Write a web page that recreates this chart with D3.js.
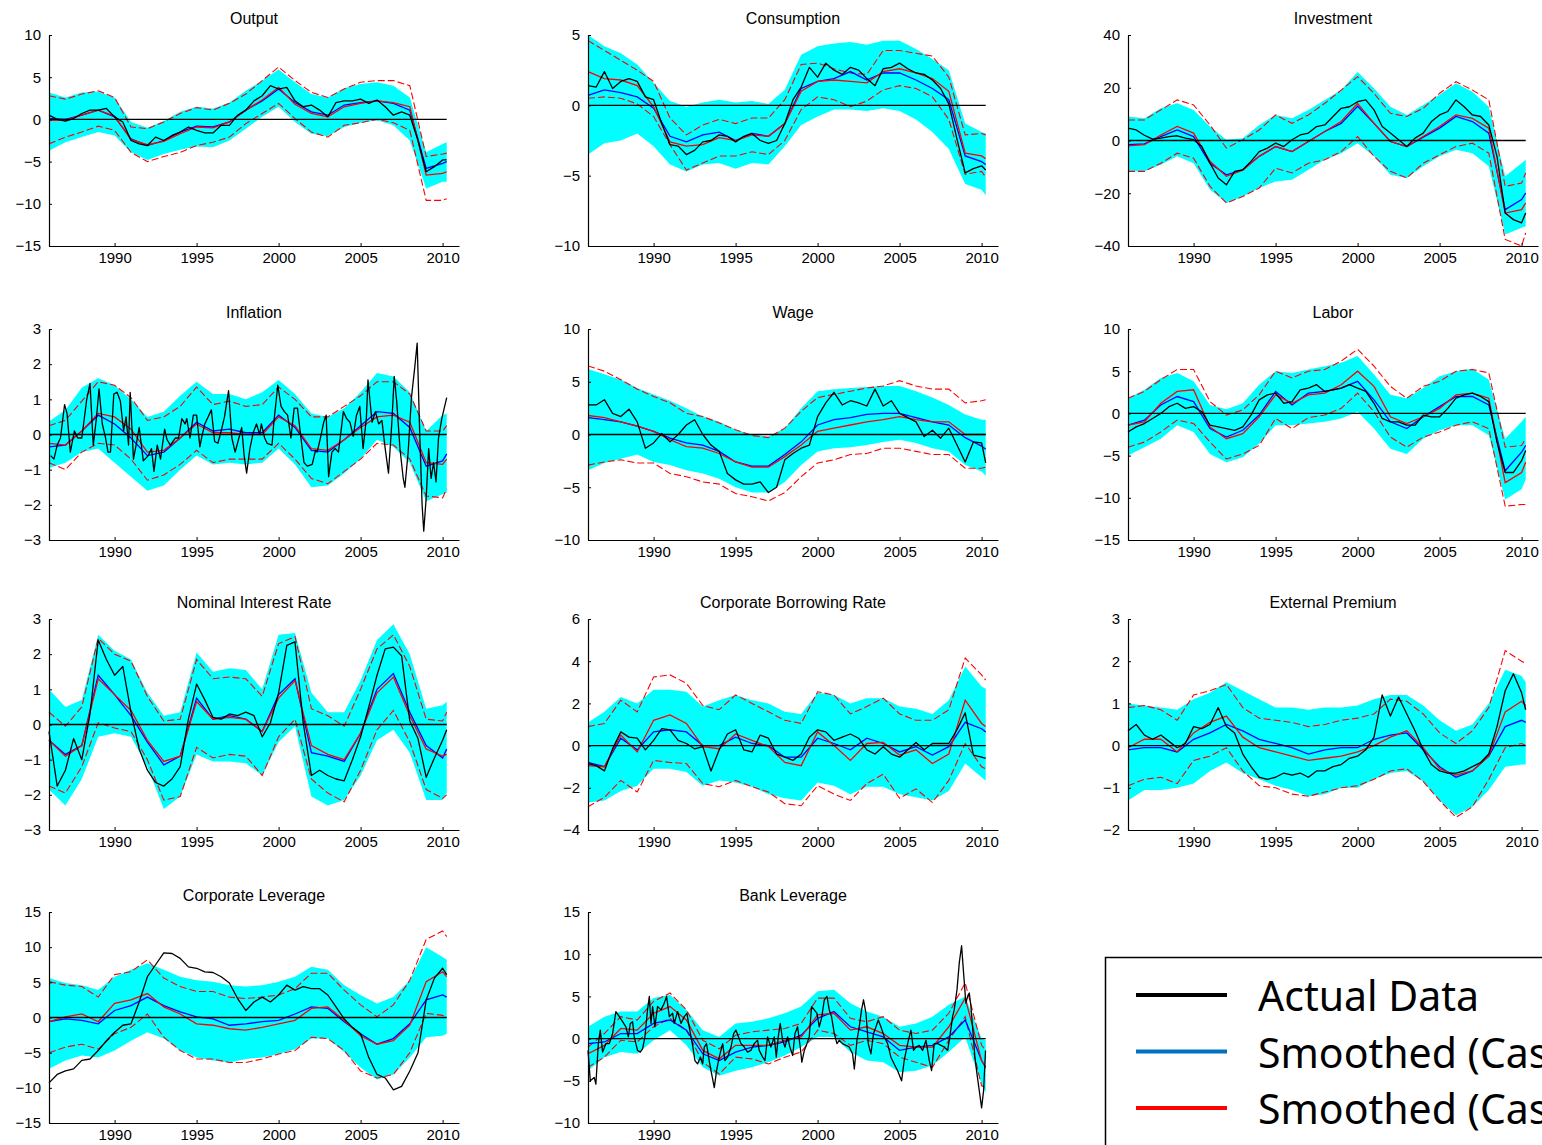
<!DOCTYPE html>
<html lang="en">
<head>
  <meta charset="utf-8">
  <title>Smoothed variables vs actual data</title>
  <script src="https://d3js.org/d3.v7.min.js"></script>
  <style>
    body { margin: 0; background: #fff; }
  </style>
</head>
<body>
<div id="chart"></div>
<script>
"use strict"

// time grids (yearly for bands / smoothed lines, half-yearly for actual data)
const years = [1986,1987,1988,1989,1990,1991,1992,1993,1994,1995,1996,1997,1998,1999,2000,
  2001,2002,2003,2004,2005,2006,2007,2008,2009,2010,2010.25];
const halfYears = [1986,1986.5,1987,1987.5,1988,1988.5,1989,1989.5,1990,1990.5,
  1991,1991.5,1992,1992.5,1993,1993.5,1994,1994.5,1995,1995.5,
  1996,1996.5,1997,1997.5,1998,1998.5,1999,1999.5,2000,2000.5,
  2001,2001.5,2002,2002.5,2003,2003.5,2004,2004.5,2005,2005.5,
  2006,2006.5,2007,2007.5,2008,2008.5,2009,2009.5,2010,2010.25];
const xTicks = [1990, 1995, 2000, 2005, 2010];

// ---- Output
const outTicks = [-15,-10,-5,0,5,10];
const outHi = [3.2,2.6,3.2,3.3,2.6, -0.3,-1.0,-0.2,0.9,1.5, 1.3,2.0,3.4,4.6,5.9, 4.4,3.0,2.6,3.7,4.2, 4.4,4.0,2.6,-3.9,-2.9,-2.7];
const outLo = [-3.7,-2.7,-2.1,-1.5,-1.9, -3.9,-4.8,-4.1,-3.6,-3.2, -3.3,-2.5,-1.1,0.3,1.5, -0.3,-1.7,-2.0,-0.9,-0.4, -0.1,-0.7,-2.5,-8.2,-7.4,-7.4];
const outDashHi = [2.8,2.4,3.0,3.4,2.6, -0.9,-1.1,-0.3,0.7,1.4, 1.1,1.9,3.0,4.6,6.2, 4.6,3.2,2.6,3.6,4.4, 4.6,4.6,4.0,-4.4,-4.1,-4.0];
const outDashLo = [-2.9,-2.1,-1.5,-0.8,-1.3, -3.9,-5.0,-4.4,-3.9,-3.1, -2.7,-2.1,-0.5,0.7,1.9, 0.1,-1.5,-2.1,-0.7,-0.4, 0.0,-0.4,-1.3,-9.6,-9.6,-9.4];
const outBlue = [0.1,0.0,0.5,1.1,0.3, -2.3,-3.1,-2.5,-1.5,-0.8, -0.9,-0.3,1.1,2.2,3.6, 2.0,0.9,0.5,1.7,2.0, 2.2,1.9,1.1,-5.8,-5.2,-5.0];
const outRed = [-0.1,-0.1,0.5,1.1,0.4, -2.4,-3.0,-2.6,-1.7,-0.9, -1.0,-0.3,1.1,2.3,3.8, 1.8,0.7,0.3,1.5,1.9, 2.2,2.0,1.5,-6.6,-6.4,-6.2];
const outActual = [0.5,0.0,-0.2,0.1,0.7,1.1,1.1,1.3,0.3,-0.3,
  -2.5,-2.9,-3.1,-2.1,-2.5,-1.9,-1.5,-0.9,-1.3,-1.6,
  -1.6,-0.7,-0.7,0.5,1.1,2.2,2.8,4.0,3.6,3.8,
  2.2,1.5,1.7,1.1,0.3,2.0,2.2,2.2,2.4,1.9,
  2.3,1.5,0.5,0.9,0.5,-2.5,-6.2,-5.6,-4.8,-4.8];

// ---- Consumption
const conTicks = [-10,-5,0,5];
const conHi = [5.0,4.2,3.7,2.9,1.6, 0.3,-0.1,0.2,0.4,0.2, 0.3,0.1,1.1,3.6,4.2, 4.4,4.5,4.3,4.6,4.6, 4.0,3.3,2.5,-1.3,-1.9,-2.0];
const conLo = [-3.5,-2.7,-2.5,-2.0,-2.9, -4.2,-4.7,-4.2,-4.1,-4.5, -4.1,-4.2,-2.9,-1.4,-0.8, -0.3,-0.3,-0.4,-0.2,-0.4, -1.0,-1.9,-3.1,-5.6,-6.0,-6.4];
const conDashHi = [4.6,3.9,3.2,2.5,1.7, -0.9,-2.1,-1.4,-1.0,-1.3, -0.9,-0.9,0.4,2.9,3.0, 2.6,2.3,2.2,3.9,3.9, 3.7,3.5,2.0,-2.1,-2.0,-2.1];
const conDashLo = [0.5,0.6,0.5,0.1,-0.8, -2.8,-4.6,-4.1,-3.6,-3.6, -3.3,-3.5,-2.5,-0.3,0.6, 0.4,-0.1,0.3,1.1,1.4, 1.2,0.6,-1.0,-4.9,-4.7,-5.1];
const conBlue = [0.7,1.1,0.9,0.6,-0.2, -2.2,-2.6,-2.1,-1.9,-2.5, -2.0,-2.2,-1.3,1.2,1.7, 1.9,2.4,1.8,2.3,2.3, 1.8,1.2,0.4,-3.6,-4.0,-4.2];
const conRed = [2.4,1.9,1.8,1.4,-0.1, -2.6,-2.9,-2.8,-2.3,-2.5, -2.1,-2.2,-1.3,1.0,1.7, 1.8,1.7,1.6,2.4,2.6, 2.3,1.9,1.0,-3.4,-3.6,-3.8];
const conActual = [1.4,1.3,2.4,1.2,1.7,1.9,1.7,0.6,0.4,-1.3,
  -2.8,-2.9,-3.5,-3.2,-2.6,-2.5,-2.1,-2.2,-2.6,-2.2,
  -2.0,-2.5,-2.7,-2.5,-1.3,0.4,1.3,2.7,2.0,3.0,
  2.5,2.2,2.7,2.5,1.9,1.4,2.6,2.7,3.0,2.6,
  2.3,2.2,1.8,1.2,0.1,-2.4,-4.8,-4.5,-4.3,-4.6];

// ---- Investment
const invTicks = [-40,-20,0,20,40];
const invHi = [9.1,8.4,12.2,14.1,11.6, 5.3,0.3,0.9,5.9,9.7, 8.4,11.6,15.4,19.1,26.0, 19.8,12.8,9.7,13.5,17.3, 21.7,18.5,12.8,-13.6,-8.6,-7.3];
const invLo = [-11.7,-11.7,-9.2,-6.0,-8.6, -18.6,-23.7,-21.2,-18.0,-15.5, -14.9,-11.1,-7.3,-4.8,-1.0, -6.0,-13.0,-14.2,-9.8,-6.0, -3.5,-4.8,-9.8,-35.6,-33.1,-32.5];
const invDashHi = [7.8,7.8,11.6,15.4,13.5, 5.9,-2.9,0.3,4.0,9.7, 6.5,9.7,14.1,19.1,24.2, 17.9,10.3,9.1,12.2,17.9, 22.3,19.1,15.4,-17.4,-16.1,-12.3];
const invDashLo = [-11.7,-11.7,-8.6,-4.8,-6.7, -17.4,-23.7,-21.2,-18.0,-10.5, -12.3,-8.6,-7.3,-4.2,1.5, -6.0,-11.7,-14.2,-8.6,-5.4, -2.3,-1.0,-4.8,-37.5,-40.0,-35.0];
const invBlue = [-1.6,-1.3,1.5,4.0,1.5, -8.6,-13.0,-11.1,-6.0,-2.3, -4.2,-0.4,3.4,6.5,13.0, 6.5,-0.4,-2.3,1.3,4.7, 9.1,7.2,2.8,-26.2,-22.4,-19.9];
const invRed = [-2.0,-1.6,2.1,5.3,2.8, -7.9,-13.6,-11.3,-6.0,-2.3, -4.2,-0.4,3.4,7.2,14.0, 6.5,-0.4,-2.3,1.5,5.3, 9.7,8.4,4.7,-27.5,-26.2,-23.7];
const invActual = [4.7,4.0,2.0,0.5,0.9,1.5,1.8,0.9,0.3,-2.3,
  -8.6,-14.2,-16.8,-11.7,-11.1,-7.9,-4.2,-2.9,-1.0,-2.3,
  0.3,2.1,2.8,5.3,5.9,9.1,12.2,12.8,14.7,15.4,
  11.6,5.3,2.8,0.3,-2.3,0.9,2.8,7.2,9.7,11.0,
  15.4,12.8,9.7,9.1,5.9,-6.0,-27.5,-30.0,-31.2,-27.5];

// ---- Inflation
const infTicks = [-3,-2,-1,0,1,2,3];
const infHi = [0.37,0.7,1.33,1.6,1.4, 1.0,0.5,0.65,1.1,1.5, 1.15,1.15,1.0,1.2,1.55, 1.15,0.6,0.5,0.75,1.2, 1.75,1.65,1.2,0.1,0.55,0.6];
const infLo = [-0.95,-0.8,-0.5,-0.4,-0.8, -1.2,-1.6,-1.45,-1.0,-0.6, -0.85,-0.8,-0.85,-0.8,-0.4, -0.85,-1.5,-1.45,-1.1,-0.7, -0.15,-0.35,-0.8,-1.9,-1.7,-1.65];
const infDashHi = [0.25,0.4,0.95,1.5,1.4, 1.05,0.4,0.5,0.8,1.35, 0.85,0.95,0.8,0.85,1.35, 1.0,0.5,0.5,0.8,1.1, 1.5,1.5,1.15,0.1,0.1,0.25];
const infDashLo = [-0.8,-1.0,-0.5,-0.25,-0.3, -0.7,-1.3,-1.15,-0.85,-0.45, -0.8,-0.7,-0.7,-0.7,-0.25, -0.7,-1.25,-1.4,-1.05,-0.7, -0.25,-0.3,-0.7,-1.75,-1.8,-1.55];
const infBlue = [-0.35,-0.3,0.1,0.55,0.3, -0.1,-0.6,-0.5,-0.1,0.35, 0.1,0.15,0.05,0.05,0.55, 0.2,-0.45,-0.5,-0.15,0.25, 0.65,0.6,0.2,-0.9,-0.75,-0.55];
const infRed = [-0.25,-0.3,0.1,0.6,0.5, 0.15,-0.5,-0.45,-0.1,0.3, 0.05,0.05,0.0,0.0,0.5, 0.25,-0.4,-0.45,-0.15,0.2, 0.5,0.55,0.35,-0.8,-0.85,-0.7];
// actual inflation is quarterly and very noisy: [year, value]
const infActual = [[1986.1,-0.6],[1986.3,-0.7],[1986.5,-0.3],[1986.7,-0.1],[1986.95,0.85],[1987.1,0.6],[1987.3,-0.5],
  [1987.55,0.1],[1987.75,-0.1],[1988.0,-0.1],[1988.3,1.0],[1988.5,1.45],[1988.7,-0.3],[1988.9,0.5],[1989.05,1.3],
  [1989.25,0.3],[1989.45,-0.1],[1989.6,-0.5],[1989.75,-0.5],[1989.95,1.15],[1990.15,1.2],[1990.35,0.95],[1990.55,0.1],
  [1990.7,0.5],[1990.85,-0.3],[1990.95,1.2],[1991.15,-0.7],[1991.35,-0.2],[1991.5,0.2],[1991.75,-0.75],[1992.05,-0.6],
  [1992.25,-0.4],[1992.4,-1.05],[1992.6,-0.3],[1992.8,-0.7],[1993.05,0.15],[1993.2,-0.15],[1993.4,-0.3],[1993.7,-0.1],
  [1993.9,-0.1],[1994.1,0.45],[1994.3,0.3],[1994.4,0.45],[1994.6,-0.1],[1994.8,0.55],[1995.0,0.55],[1995.2,-0.35],
  [1995.3,-0.1],[1995.5,0.3],[1995.7,0.5],[1995.9,0.7],[1996.1,-0.2],[1996.3,-0.25],[1996.5,0.1],[1996.7,0.5],
  [1996.95,1.25],[1997.15,-0.1],[1997.35,-0.5],[1997.55,-0.15],[1997.75,0.2],[1997.9,-0.6],[1998.05,-1.1],[1998.25,-0.4],
  [1998.45,0.05],[1998.65,0.3],[1998.85,0.0],[1998.95,0.3],[1999.15,-0.1],[1999.3,-0.25],[1999.6,-0.3],[1999.7,0.3],
  [1999.95,1.4],[2000.15,0.8],[2000.35,0.65],[2000.55,0.55],[2000.75,-0.1],[2000.95,0.75],[2001.15,0.75],[2001.35,-0.05],
  [2001.55,-0.8],[2001.75,-0.9],[2002.05,-0.85],[2002.25,-0.45],[2002.35,-0.5],[2002.55,-0.1],[2002.75,0.35],[2002.9,0.55],
  [2003.05,-1.2],[2003.25,-0.5],[2003.45,-0.4],[2003.65,-0.5],[2003.95,0.65],[2004.15,0.45],[2004.35,0.35],[2004.55,-0.05],
  [2004.75,0.55],[2004.95,0.8],[2005.15,-0.4],[2005.35,0.45],[2005.45,1.55],[2005.7,0.35],[2005.9,0.65],[2006.1,0.3],
  [2006.3,0.4],[2006.5,-0.4],[2006.7,-1.1],[2006.9,0.3],[2007.05,1.65],[2007.2,0.95],[2007.4,-0.4],[2007.6,-1.25],
  [2007.7,-1.5],[2007.9,-0.5],[2008.1,1.05],[2008.3,1.9],[2008.45,2.6],[2008.6,0.1],[2008.75,-2.0],[2008.85,-2.75],
  [2009.0,-1.8],[2009.15,-0.4],[2009.3,-1.25],[2009.45,-0.8],[2009.6,-1.35],[2009.75,-0.1],[2009.95,0.45],[2010.1,0.75],
  [2010.25,1.05]];

// ---- Wage
const wagTicks = [-10,-5,0,5,10];
const wagHi = [6.2,5.7,5.2,4.4,3.8, 3.2,2.5,1.7,1.2,0.45, 0.0,-0.2,0.6,2.5,4.1, 4.3,4.4,4.5,4.6,4.6, 4.1,3.5,2.8,1.9,1.4,1.4];
const wagLo = [-3.4,-2.7,-2.3,-1.9,-2.6, -2.9,-3.4,-3.7,-4.2,-5.0, -5.5,-5.5,-4.5,-2.9,-1.6, -1.3,-1.2,-1.0,-0.7,-0.5, -0.8,-1.3,-1.6,-2.9,-3.5,-3.9];
const wagDashHi = [6.5,6.0,5.2,4.3,3.6, 3.0,2.0,1.7,1.1,0.45, -0.1,-0.3,0.6,2.2,3.5, 3.8,4.1,4.4,4.6,5.1, 4.6,4.3,4.3,3.0,3.2,3.3];
const wagDashLo = [-2.9,-2.6,-2.4,-2.7,-2.7, -3.7,-4.0,-4.5,-4.7,-5.6, -5.9,-6.3,-5.5,-4.0,-2.7, -2.4,-1.9,-1.8,-1.3,-1.3, -1.6,-1.9,-1.9,-3.2,-3.2,-3.1];
const wagBlue = [1.6,1.4,1.2,0.8,0.3, -0.35,-0.8,-1.0,-1.6,-2.6, -3.0,-3.0,-1.9,-0.7,0.9, 1.4,1.6,1.9,2.0,2.0, 1.6,1.2,0.9,-0.3,-1.1,-1.4];
const wagRed = [1.8,1.6,1.2,0.8,0.3, -0.5,-1.15,-1.3,-1.8,-2.6, -3.1,-3.1,-2.1,-1.0,0.3, 0.6,0.9,1.2,1.4,1.7, 1.4,1.2,1.2,0.0,0.0,0.0];
const wagActual = [2.8,2.8,3.3,2.0,1.7,2.4,1.2,-1.3,-0.8,0.1,
  -0.7,0.0,0.9,1.4,0.0,-1.0,-1.6,-3.7,-4.3,-4.7,
  -4.7,-4.5,-5.5,-5.0,-2.4,-1.8,-1.3,-1.0,1.7,3.0,
  4.0,2.8,3.2,3.0,2.7,4.3,2.7,3.2,2.0,1.6,
  1.2,-0.2,0.4,-0.35,0.6,-1.0,-2.6,-0.7,-0.8,-2.7];

// ---- Labor
const labTicks = [-15,-10,-5,0,5,10];
const labHi = [1.8,2.8,4.2,4.8,3.8, 1.0,0.5,1.2,3.4,5.0, 4.8,5.2,5.6,6.0,6.8, 4.6,2.2,1.8,3.0,4.4, 5.0,5.3,4.0,-3.0,-1.0,-0.4];
const labLo = [-5.0,-4.0,-3.0,-1.4,-2.2, -4.8,-5.8,-5.2,-3.6,-1.4, -1.4,-1.2,-1.0,-0.6,0.2, -1.8,-4.2,-4.8,-3.0,-2.0, -1.4,-1.4,-2.6,-10.2,-9.0,-7.8];
const labDashHi = [1.8,2.6,4.0,5.2,5.2, 1.4,-0.2,0.4,2.2,5.0, 4.2,5.0,5.2,6.2,7.6, 5.6,3.2,1.8,3.2,3.8, 5.0,5.2,4.8,-4.0,-3.8,-3.0];
const labDashLo = [-4.0,-3.4,-2.2,-0.8,-1.2, -3.4,-5.4,-4.8,-3.8,-0.6, -1.8,-0.5,-0.2,0.6,2.4, 0.2,-2.8,-4.0,-2.8,-2.2, -1.4,-1.0,-1.8,-11.0,-10.8,-10.8];
const labBlue = [-1.4,-0.8,1.0,2.0,1.4, -1.8,-2.8,-2.0,-0.2,2.6, 1.0,2.4,2.6,3.0,3.8, 1.6,-1.0,-1.8,-0.4,0.8, 2.0,2.0,1.0,-6.8,-4.6,-3.8];
const labRed = [-1.4,-1.0,1.2,2.6,2.8, -1.6,-3.0,-2.4,-0.4,2.2, 1.2,2.2,2.4,3.4,5.0, 3.2,-0.4,-1.2,-0.4,0.6, 2.2,2.4,1.8,-8.2,-7.0,-5.8];
const labActual = [-2.2,-1.6,-1.2,-0.6,0.0,0.8,1.2,0.6,0.8,0.2,
  -1.4,-1.6,-1.8,-2.0,-1.6,-0.2,1.6,2.2,2.4,1.2,
  1.4,2.8,3.0,3.4,2.6,2.8,3.0,3.4,3.0,2.6,
  1.2,-0.6,-1.0,-1.0,-1.4,-1.4,-0.2,-0.4,-0.4,0.6,
  1.8,2.2,2.4,2.0,1.4,-3.4,-7.0,-7.0,-5.6,-4.4];

// ---- Nominal Interest Rate
const nomTicks = [-3,-2,-1,0,1,2,3];
const nomHi = [1.0,0.5,0.7,2.55,2.1, 1.85,0.9,0.25,0.35,2.05, 1.5,1.6,1.55,1.0,2.55, 2.6,0.9,0.35,0.35,1.25, 2.4,2.85,2.0,0.45,0.55,0.65];
const nomLo = [-1.85,-2.3,-1.55,-0.35,-0.25, -0.35,-1.2,-2.4,-2.05,-0.85, -1.05,-1.05,-1.1,-1.45,-0.5, -0.05,-2.05,-2.3,-2.15,-1.45, -0.45,-0.15,-0.8,-2.15,-2.15,-1.95];
const nomDashHi = [0.35,-0.05,0.5,2.45,2.0, 1.8,0.8,0.1,0.15,1.85, 1.3,1.35,1.3,0.8,2.3, 2.5,0.45,0.25,-0.05,1.0, 2.15,2.55,1.65,0.15,0.1,0.35];
const nomDashLo = [-1.75,-1.95,-1.2,0.05,-0.1, -0.2,-1.0,-2.15,-2.05,-0.65, -0.95,-0.85,-0.9,-1.45,-0.35, 0.15,-1.55,-1.95,-2.2,-1.3, -0.15,0.4,-0.5,-1.85,-2.1,-2.0];
const nomBlue = [-0.45,-0.85,-0.6,1.4,0.85, 0.25,-0.5,-1.15,-0.9,0.75, 0.15,0.25,0.15,-0.2,0.85, 1.3,-0.8,-0.9,-1.05,-0.25, 1.0,1.45,0.35,-0.6,-0.95,-0.7];
const nomRed = [-0.45,-0.9,-0.6,1.3,0.85, 0.4,-0.45,-1.05,-0.9,0.65, 0.15,0.2,0.15,-0.2,0.75, 1.25,-0.6,-0.85,-1.0,-0.25, 0.9,1.35,0.25,-0.7,-0.9,-0.85];
const nomActual = [-0.2,-1.75,-1.3,-0.4,-1.0,0.3,2.4,1.85,1.4,1.65,
  0.35,-0.7,-1.3,-1.65,-1.75,-1.55,-1.2,0.15,1.15,0.7,
  0.2,0.15,0.3,0.25,0.35,0.25,-0.35,0.05,0.9,2.25,
  2.35,0.05,-1.45,-1.3,-1.45,-1.55,-1.6,-1.0,-0.35,0.5,
  1.4,2.15,2.2,1.95,0.1,-0.4,-1.5,-0.95,-0.45,-0.15];

// ---- Corporate Borrowing Rate
const cbrTicks = [-4,-2,0,2,4,6];
const cbrHi = [1.1,1.6,2.3,2.0,2.65, 2.65,2.55,1.85,2.15,2.4, 2.15,2.0,1.6,1.5,2.5, 2.4,2.0,2.25,2.25,1.85, 1.75,1.5,2.15,3.75,2.8,2.7];
const cbrLo = [-2.7,-2.6,-2.15,-1.9,-1.1, -1.1,-1.25,-1.9,-1.65,-1.75, -1.95,-2.3,-2.5,-2.6,-1.75, -1.9,-2.3,-1.95,-1.95,-2.3, -2.45,-2.6,-2.15,-0.85,-1.5,-1.65];
const cbrDashHi = [0.9,1.05,2.15,1.6,3.25, 3.35,2.95,1.9,1.7,2.4, 2.0,1.6,1.2,1.05,2.55, 2.4,1.5,1.85,2.25,1.5, 1.2,1.2,1.7,4.15,3.35,3.1];
const cbrDashLo = [-2.9,-2.45,-1.65,-2.2,-0.7, -0.8,-0.85,-1.8,-1.95,-1.65, -1.95,-2.2,-2.75,-2.85,-1.9, -2.3,-2.6,-1.8,-1.35,-2.5, -2.05,-2.7,-1.65,0.1,-1.0,-1.1];
const cbrBlue = [-0.8,-1.0,0.35,-0.2,0.65, 0.75,0.65,0.0,0.0,0.4, 0.1,0.0,-0.55,-0.55,0.35, 0.1,-0.2,0.35,0.1,-0.3, -0.05,-0.45,-0.05,1.1,0.8,0.65];
const cbrRed = [-0.95,-1.0,0.5,-0.3,1.2, 1.45,1.05,-0.05,-0.15,0.55, 0.25,-0.05,-0.8,-0.95,0.65, 0.0,-0.7,0.1,0.15,-0.45, -0.2,-0.85,-0.4,2.15,1.05,0.9];
const cbrActual = [-0.85,-0.95,-1.2,-0.15,0.65,0.4,0.35,-0.2,0.25,0.8,
  0.75,0.25,0.1,-0.15,-0.05,-1.2,-0.2,0.55,0.75,-0.2,
  -0.3,0.5,0.35,-0.4,-0.55,-0.7,-0.4,0.4,0.75,0.65,
  0.25,0.4,0.55,0.35,-0.2,-0.4,-0.05,-0.4,-0.55,-0.2,
  0.15,-0.2,0.1,0.1,0.1,0.75,1.55,-0.45,-0.55,-0.6];

// ---- External Premium
const extTicks = [-2,-1,0,1,2,3];
const extHi = [1.0,0.95,0.9,0.85,1.1, 1.25,1.5,1.3,1.1,0.9, 0.9,0.85,0.9,0.9,0.95, 1.1,1.2,1.2,0.95,0.6, 0.35,0.5,1.0,1.8,1.65,1.5];
const extLo = [-1.3,-1.05,-1.05,-1.0,-0.9, -0.6,-0.4,-0.65,-0.8,-0.95, -1.05,-1.2,-1.15,-1.0,-1.0, -0.8,-0.65,-0.6,-0.85,-1.3, -1.65,-1.45,-1.05,-0.5,-0.45,-0.45];
const extDashHi = [0.9,0.95,0.85,0.6,1.2, 1.3,1.45,0.9,0.65,0.6, 0.55,0.45,0.5,0.6,0.65, 0.75,1.1,1.05,0.75,0.3, 0.05,0.35,0.9,2.25,2.0,1.95];
const extDashLo = [-0.95,-0.8,-0.75,-0.9,-0.35, -0.25,-0.05,-0.6,-0.95,-1.0, -1.15,-1.2,-1.1,-1.0,-0.95, -0.8,-0.6,-0.55,-0.85,-1.3, -1.7,-1.45,-0.8,-0.05,0.05,0.0];
const extBlue = [-0.1,-0.05,-0.05,-0.15,0.15, 0.3,0.5,0.35,0.15,0.05, -0.05,-0.2,-0.1,-0.05,-0.05, 0.15,0.25,0.3,-0.1,-0.5, -0.75,-0.6,-0.25,0.45,0.6,0.55];
const extRed = [-0.05,0.15,0.15,-0.15,0.3, 0.55,0.7,0.2,-0.05,-0.15, -0.25,-0.35,-0.3,-0.25,-0.15, 0.0,0.2,0.35,-0.05,-0.55, -0.7,-0.6,-0.25,0.8,1.05,0.95];
const extActual = [0.35,0.5,0.25,0.15,0.25,0.1,-0.05,0.05,0.45,0.4,
  0.5,0.9,0.45,0.3,-0.2,-0.5,-0.75,-0.8,-0.75,-0.65,
  -0.7,-0.65,-0.75,-0.6,-0.6,-0.5,-0.45,-0.3,-0.25,-0.1,
  0.2,1.2,0.7,1.15,0.75,0.35,-0.1,-0.45,-0.6,-0.65,
  -0.65,-0.6,-0.5,-0.4,-0.2,0.45,1.3,1.7,1.25,0.85];

// ---- Corporate Leverage
const clvTicks = [-15,-10,-5,0,5,10,15];
const clvHi = [5.6,4.9,4.6,3.9,5.8, 6.8,7.7,6.8,5.8,5.3, 5.1,4.6,4.4,4.6,5.1, 5.8,7.2,6.8,4.6,3.2, 2.0,2.9,5.3,10.0,8.6,8.2];
const clvLo = [-7.3,-6.1,-5.4,-5.7,-4.7, -3.3,-2.1,-3.0,-4.7,-5.7, -6.1,-6.4,-5.9,-5.7,-5.2, -4.5,-3.0,-3.0,-4.9,-7.1, -8.8,-8.1,-5.7,-2.8,-2.6,-2.3];
const clvDashHi = [5.1,4.6,4.4,2.9,6.1, 6.5,8.2,5.6,4.4,3.7, 3.7,2.9,2.7,2.9,3.2, 4.1,6.3,6.3,3.9,1.8, 0.1,1.8,5.3,11.1,12.3,11.5];
const clvDashLo = [-5.0,-4.2,-3.8,-4.5,-2.3, -1.4,0.5,-2.8,-4.7,-5.9, -5.9,-6.4,-6.4,-5.9,-5.2, -4.7,-2.8,-3.0,-4.7,-7.6, -8.6,-8.1,-5.0,0.6,0.3,0.1];
const clvBlue = [-0.6,-0.2,-0.4,-0.9,1.0, 1.7,2.9,1.7,0.8,0.1, -0.2,-1.1,-0.9,-0.6,-0.4, 0.5,1.5,1.3,-0.6,-2.3, -3.8,-3.0,-0.9,2.5,3.2,2.9];
const clvRed = [-0.6,0.1,0.5,-0.6,2.0, 2.5,3.4,1.5,0.5,-0.9, -1.1,-1.6,-1.8,-1.4,-0.9, -0.4,1.3,1.5,-0.4,-2.6, -3.8,-3.3,-1.1,5.1,6.5,5.8];
const clvActual = [-9.3,-8.1,-7.6,-7.3,-6.1,-5.9,-4.7,-3.3,-2.1,-1.1,
  -0.9,2.2,5.8,7.5,9.2,9.1,8.4,7.2,7.0,6.5,
  6.4,5.8,4.9,2.7,1.0,2.2,2.9,2.2,3.2,4.6,
  3.9,4.4,4.1,4.1,3.2,1.5,-0.2,-1.4,-2.3,-5.7,
  -8.1,-8.6,-10.3,-9.8,-7.6,-5.0,2.5,5.6,7.0,6.1];

// ---- Bank Leverage
const blvTicks = [-10,-5,0,5,10,15];
const blvHi = [1.4,2.6,3.2,3.2,4.8, 5.2,3.4,1.0,0.2,1.8, 2.0,2.4,3.0,3.8,5.6, 5.8,4.2,3.2,2.6,1.4, 1.8,2.6,4.0,5.0,0.0,-0.2];
const blvLo = [-3.8,-2.2,-1.6,-1.8,-0.2, 1.0,-0.8,-3.4,-4.4,-3.8, -3.4,-2.8,-2.0,-1.0,0.2, 0.2,-1.6,-2.6,-2.8,-4.0, -3.8,-3.2,-1.6,0.2,-5.4,-6.4];
const blvDashHi = [-1.0,0.6,2.6,2.2,4.4, 5.4,3.4,-0.2,-1.2,0.4, 0.8,1.0,1.2,1.8,4.8, 4.8,2.4,2.0,2.6,1.0, 0.6,1.0,3.0,6.6,-0.8,-1.4];
const blvDashLo = [-3.4,-2.2,-0.2,-0.4,1.4, 2.4,1.0,-2.8,-4.2,-2.2, -2.4,-3.0,-2.2,-1.6,1.0, 0.6,-0.8,-0.2,-0.6,-2.2, -2.8,-3.4,-0.2,2.6,-5.6,-5.8];
const blvBlue = [-0.6,-0.4,0.6,0.6,1.8, 2.2,1.0,-1.8,-2.6,-1.6, -1.0,-0.8,-0.4,0.4,2.4, 3.2,1.4,0.8,0.2,-1.4, -1.0,-0.8,0.2,2.2,-2.6,-3.4];
const blvRed = [-1.8,-0.8,1.2,1.0,3.0, 3.8,2.2,-1.4,-2.4,-0.8, -0.8,-0.8,-0.2,0.2,2.8, 3.0,1.0,1.4,0.6,-0.8, -1.0,-1.0,1.4,4.8,-2.6,-3.4];
// actual bank leverage is noisy: [year, value]
const blvActual = [[1986.0,-1.4],[1986.14,-5.0],[1986.38,-4.6],[1986.48,-5.4],[1986.63,-0.6],[1986.75,1.0],[1986.89,-1.6],
  [1987.09,-0.6],[1987.3,-0.6],[1987.5,0.6],[1987.7,3.2],[1987.91,2.6],[1988.11,2.0],[1988.31,1.4],[1988.46,0.2],
  [1988.58,1.8],[1988.72,2.0],[1988.82,0.2],[1989.02,-1.4],[1989.19,-1.6],[1989.33,-1.2],[1989.47,0.2],[1989.63,3.4],
  [1989.74,5.0],[1989.84,1.8],[1989.94,3.8],[1990.08,1.4],[1990.24,3.8],[1990.45,3.4],[1990.65,4.2],[1990.79,5.0],
  [1990.96,2.6],[1991.16,3.0],[1991.26,1.8],[1991.46,3.2],[1991.67,1.8],[1991.87,2.6],[1992.03,3.0],[1992.17,1.4],
  [1992.38,-0.8],[1992.52,-2.6],[1992.68,-3.0],[1992.85,-2.2],[1992.99,-3.0],[1993.09,-1.0],[1993.23,-0.6],[1993.39,-2.6],
  [1993.5,-3.8],[1993.7,-5.8],[1993.84,-3.8],[1994.0,-2.2],[1994.21,-0.6],[1994.35,-2.6],[1994.51,-2.2],[1994.72,-1.0],
  [1994.88,0.6],[1995.02,1.0],[1995.18,0.2],[1995.33,-0.6],[1995.53,-1.0],[1995.73,-1.6],[1995.93,-1.4],[1996.14,-0.6],
  [1996.34,-0.2],[1996.44,-1.4],[1996.65,-2.2],[1996.79,-2.6],[1996.95,0.2],[1997.15,-1.0],[1997.36,0.2],[1997.48,-2.2],
  [1997.6,0.2],[1997.72,1.8],[1997.87,-0.2],[1998.01,-1.0],[1998.17,0.2],[1998.31,-1.0],[1998.48,-2.0],[1998.62,0.6],
  [1998.78,1.4],[1998.94,-1.0],[1999.04,-2.8],[1999.19,-1.4],[1999.35,-0.6],[1999.49,0.2],[1999.63,3.8],[1999.8,3.4],
  [1999.96,3.0],[2000.1,1.4],[2000.24,2.4],[2000.41,4.6],[2000.57,5.0],[2000.71,3.4],[2000.85,2.6],[2001.02,0.6],
  [2001.18,-0.6],[2001.32,-0.2],[2001.52,-0.6],[2001.73,-0.8],[2001.93,-1.0],[2002.13,-1.8],[2002.24,-3.6],[2002.4,-0.2],
  [2002.54,1.4],[2002.68,3.4],[2002.8,4.6],[2002.95,3.0],[2003.09,-0.6],[2003.25,-1.8],[2003.41,0.6],[2003.56,1.4],
  [2003.7,2.2],[2003.86,1.4],[2004.07,0.2],[2004.27,-0.6],[2004.47,-2.2],[2004.67,-3.0],[2004.88,-3.8],[2005.12,-5.0],
  [2005.28,-2.6],[2005.49,-0.6],[2005.69,1.0],[2005.85,-1.4],[2006.0,-1.0],[2006.2,-0.8],[2006.4,-1.4],[2006.61,-0.2],
  [2006.81,-2.6],[2006.95,-3.8],[2007.11,-0.6],[2007.32,-0.6],[2007.52,-0.8],[2007.72,-1.0],[2007.93,-1.4],[2008.09,0.6],
  [2008.23,2.6],[2008.33,3.4],[2008.5,5.8],[2008.64,9.0],[2008.78,11.0],[2008.9,7.8],[2009.04,4.2],[2009.15,5.0],
  [2009.25,5.4],[2009.35,3.8],[2009.45,1.4],[2009.59,-2.2],[2009.72,-4.2],[2009.86,-6.2],[2010.0,-8.2],[2010.12,-6.2],
  [2010.24,-1.4]];

// legend (the original picture is cropped through the last two labels)
const legendLabels = ["Actual Data", "Smoothed (Case A)", "Smoothed (Case B)"];
const legendColors = ["#000000", "#0070c0", "#ff0000"];

// panel table built from the arrays above
const panels = [
  {title: "Output", col: 0, row: 0, ticks: outTicks, hi: outHi, lo: outLo, dHi: outDashHi, dLo: outDashLo, blue: outBlue, red: outRed, actual: outActual},
  {title: "Consumption", col: 1, row: 0, ticks: conTicks, hi: conHi, lo: conLo, dHi: conDashHi, dLo: conDashLo, blue: conBlue, red: conRed, actual: conActual},
  {title: "Investment", col: 2, row: 0, ticks: invTicks, hi: invHi, lo: invLo, dHi: invDashHi, dLo: invDashLo, blue: invBlue, red: invRed, actual: invActual},
  {title: "Inflation", col: 0, row: 1, ticks: infTicks, hi: infHi, lo: infLo, dHi: infDashHi, dLo: infDashLo, blue: infBlue, red: infRed, actual: infActual},
  {title: "Wage", col: 1, row: 1, ticks: wagTicks, hi: wagHi, lo: wagLo, dHi: wagDashHi, dLo: wagDashLo, blue: wagBlue, red: wagRed, actual: wagActual},
  {title: "Labor", col: 2, row: 1, ticks: labTicks, hi: labHi, lo: labLo, dHi: labDashHi, dLo: labDashLo, blue: labBlue, red: labRed, actual: labActual},
  {title: "Nominal Interest Rate", col: 0, row: 2, ticks: nomTicks, hi: nomHi, lo: nomLo, dHi: nomDashHi, dLo: nomDashLo, blue: nomBlue, red: nomRed, actual: nomActual},
  {title: "Corporate Borrowing Rate", col: 1, row: 2, ticks: cbrTicks, hi: cbrHi, lo: cbrLo, dHi: cbrDashHi, dLo: cbrDashLo, blue: cbrBlue, red: cbrRed, actual: cbrActual},
  {title: "External Premium", col: 2, row: 2, ticks: extTicks, hi: extHi, lo: extLo, dHi: extDashHi, dLo: extDashLo, blue: extBlue, red: extRed, actual: extActual},
  {title: "Corporate Leverage", col: 0, row: 3, ticks: clvTicks, hi: clvHi, lo: clvLo, dHi: clvDashHi, dLo: clvDashLo, blue: clvBlue, red: clvRed, actual: clvActual},
  {title: "Bank Leverage", col: 1, row: 3, ticks: blvTicks, hi: blvHi, lo: blvLo, dHi: blvDashHi, dLo: blvDashLo, blue: blvBlue, red: blvRed, actual: blvActual}
];

const W = 1542, H = 1145;
const colX = [49, 588, 1128], rowY = [35, 329, 619, 912];
const plotW = 410, plotH = 211;
const tickFont = '"Liberation Sans", Arial, sans-serif';

const svg = d3.select("#chart").append("svg")
  .attr("width", W).attr("height", H)
  .style("display", "block")
  .style("background", "#fff");

function drawPanel(p) {
  const g = svg.append("g")
    .attr("transform", "translate(" + colX[p.col] + "," + rowY[p.row] + ")");

  const x = d3.scaleLinear().domain([1986, 2011]).range([0, plotW]);
  const y = d3.scaleLinear().domain(d3.extent(p.ticks)).range([plotH, 0]);

  const line = d3.line().x(d => x(d[0])).y(d => y(d[1]));
  const area = d3.area().x(d => x(d[0])).y0(d => y(d[2])).y1(d => y(d[1]));

  // cyan band (Case A)
  g.append("path")
    .datum(d3.zip(years, p.hi, p.lo))
    .attr("d", area)
    .attr("fill", "#00ffff");

  // red dashed band (Case B)
  [p.dHi, p.dLo].forEach(s => {
    g.append("path")
      .datum(d3.zip(years, s))
      .attr("d", line)
      .attr("fill", "none")
      .attr("stroke", "#ff0000")
      .attr("stroke-width", 1.1)
      .attr("stroke-dasharray", "7,3");
  });

  // smoothed medians
  g.append("path").datum(d3.zip(years, p.blue)).attr("d", line)
    .attr("fill", "none").attr("stroke", "#0000ff").attr("stroke-width", 1.3);
  g.append("path").datum(d3.zip(years, p.red)).attr("d", line)
    .attr("fill", "none").attr("stroke", "#ff0000").attr("stroke-width", 1.3);

  // zero line
  g.append("path").datum([[1986, 0], [2010.25, 0]]).attr("d", line)
    .attr("fill", "none").attr("stroke", "#000").attr("stroke-width", 1.4);

  // actual data
  const act = Array.isArray(p.actual[0]) ? p.actual : d3.zip(halfYears, p.actual);
  g.append("path").datum(act).attr("d", line)
    .attr("fill", "none").attr("stroke", "#000").attr("stroke-width", 1.3)
    .attr("stroke-linejoin", "round");

  // axes, ticks pointing inward
  const ax = g.append("g")
    .attr("transform", "translate(0," + plotH + ")")
    .call(d3.axisBottom(x).tickValues(xTicks).tickFormat(d3.format("d"))
      .tickSizeInner(-3).tickSizeOuter(0).tickPadding(6));
  const ay = g.append("g")
    .call(d3.axisLeft(y).tickValues(p.ticks).tickFormat(d3.format("d"))
      .tickSizeInner(-3).tickSizeOuter(0).tickPadding(8));
  [ax, ay].forEach(a => {
    a.attr("font-family", tickFont).attr("font-size", 15);
    a.select(".domain").attr("stroke-width", 1.2);
  });

  g.append("text")
    .attr("x", plotW / 2).attr("y", -11)
    .attr("text-anchor", "middle")
    .attr("font-family", tickFont)
    .attr("font-size", 16)
    .text(p.title);
}

panels.forEach(drawPanel);

// legend box (runs off the right / bottom edge like the original)
const lg = svg.append("g");
lg.append("rect")
  .attr("x", 1105.5).attr("y", 957.5)
  .attr("width", 500).attr("height", 300)
  .attr("fill", "#fff").attr("stroke", "#000").attr("stroke-width", 1.5);
legendLabels.forEach((lab, i) => {
  const yy = 995 + i * 56.5;
  lg.append("line")
    .attr("x1", 1136).attr("x2", 1227).attr("y1", yy).attr("y2", yy)
    .attr("stroke", legendColors[i]).attr("stroke-width", 4);
  lg.append("text")
    .attr("x", 1258).attr("y", yy + 16)
    .attr("font-family", '"Noto Sans", "Open Sans", sans-serif')
    .attr("font-size", 41)
    .text(lab);
});
</script>
</body>
</html>
